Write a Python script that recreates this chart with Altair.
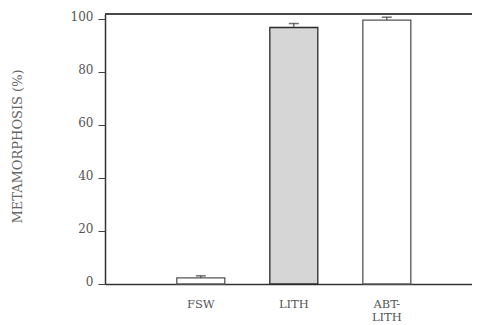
import altair as alt
import pandas as pd

treatments = ["FSW", "LITH", "ABT-LITH"]
metamorphosis = [2.3, 96.9, 99.7]
errors = [0.8, 1.5, 1.1]
y_ticks = [0, 20, 40, 60, 80, 100]

df = pd.DataFrame({"treatment": treatments, "pct": metamorphosis, "err": errors})
df["upper"] = df["pct"] + df["err"]

W, H = 367, 270
FONT = "DejaVu Serif"

xscale = alt.Scale(domain=treatments, paddingInner=0.484, paddingOuter=0.715, align=0.54)
yscale = alt.Scale(domain=[0, 102], nice=False, zero=True)

x_enc = alt.X(
    "treatment:N", scale=xscale, sort=treatments, title=None,
    axis=alt.Axis(
        ticks=False, labelAngle=0, labelPadding=14, labelFont=FONT, labelFontSize=11.5,
        labelColor="#555", domainColor="#333", domainWidth=1.5,
        labelExpr="datum.label == 'ABT-LITH' ? ['ABT-', 'LITH'] : datum.label",
        labelLineHeight=13, labelBaseline="top",
    ),
)

base = alt.Chart(df).encode(x=x_enc)

bars = base.mark_bar(strokeWidth=1.3).encode(
    y=alt.Y(
        "pct:Q", scale=yscale, title="METAMORPHOSIS (%)",
        axis=alt.Axis(
            values=y_ticks, grid=False, tickSize=7, tickColor="#444", tickWidth=1,
            domainColor="#333", domainWidth=1.5, labelFont=FONT, labelFontSize=12,
            labelColor="#555", labelPadding=5, labelBaseline="alphabetic", labelOffset=1,
            titleFont=FONT, titleFontSize=13,
            titleFontWeight="normal", titleColor="#666", titleX=-88, titleY=132,
            titleAngle=-90, titleAlign="center", titleBaseline="middle",
        ),
    ),
    fill=alt.Fill("treatment:N", scale=alt.Scale(domain=treatments, range=["#ffffff", "#d6d6d6", "#ffffff"]), legend=None),
    stroke=alt.Stroke("treatment:N", scale=alt.Scale(domain=treatments, range=["#555555", "#2a2a2a", "#555555"]), legend=None),
)

err_rule = base.mark_rule(color="#333", strokeWidth=1).encode(
    y=alt.Y("pct:Q", scale=yscale), y2="upper:Q"
)
err_cap = base.mark_tick(color="#333", thickness=1.5, size=10, orient="horizontal").encode(
    y=alt.Y("upper:Q", scale=yscale)
)

top_line = base.mark_rule(color="#444", strokeWidth=1.5).encode(
    x=alt.value(0), x2=alt.value(W), y=alt.value(0)
)

chart = (
    alt.layer(bars, err_rule, err_cap, top_line)
    .properties(width=W, height=H, autosize="none",
                padding={"left": 97, "top": 6, "right": 0, "bottom": 42},
                background="white")
    .configure_view(stroke=None)
)

chart.save("out.html", embed_options={"renderer": "svg", "actions": False})
